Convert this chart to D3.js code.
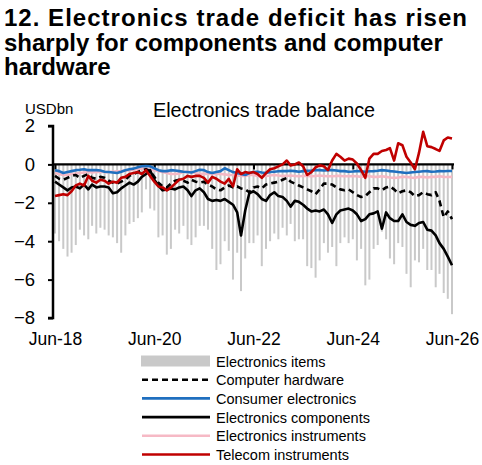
<!DOCTYPE html>
<html><head><meta charset="utf-8">
<script src="https://cdn.jsdelivr.net/npm/d3@7"></script>
<style>
body{margin:0;background:#fff;font-family:"Liberation Sans",Arial,sans-serif;}
</style></head>
<body><svg id="c" width="482" height="465"></svg>
<script>
// Monthly, Jun-2018 .. Jun-2026 (97 points)
const startMonth = [2018, 5];
const xTickLabels = ["Jun-18","Jun-20","Jun-22","Jun-24","Jun-26"];
const yTicks = [2,0,-2,-4,-6,-8];

const electronicsItems = [
-3.6,-4.0,-4.4,-4.8,-4.6,-4.2,-3.4,-3.7,-3.9,-3.2,-3.6,-3.3,-3.4,-3.7,-3.8,-4.1,-4.6,-3.7,-3.1,-3.0,
-2.8,-2.5,-1.3,-2.3,-2.4,-3.8,-3.7,-4.7,-4.4,-3.4,-3.6,-3.2,-3.9,-4.2,-3.8,-3.2,-3.2,-3.4,-4.4,
-5.5,-5.2,-4.0,-4.5,-6.0,-4.6,-6.6,-4.9,-4.1,-4.1,-3.7,-5.3,-4.4,-4.0,-3.6,-3.9,-3.3,-3.7,-3.1,
-4.0,-3.9,-3.9,-5.3,-5.4,-5.9,-5.0,-4.1,-4.6,-4.3,-5.3,-4.1,-3.8,-4.1,-3.9,-5.0,-4.4,-6.3,-6.0,-4.4,
-4.2,-3.5,-3.9,-4.9,-5.2,-4.1,-4.3,-5.7,-6.4,-5.0,-5.1,-4.4,-5.5,-5.5,-6.4,-5.7,-6.7,-7.0,-7.8];

const computerHardware = [
-0.6,-0.75,-0.8,-0.7,-0.6,-0.55,-0.7,-0.6,-0.5,-0.7,-0.75,-0.65,-0.7,-0.85,-0.95,-1.0,-0.9,-0.8,-0.6,-0.5,
-0.4,-0.3,-0.25,-0.35,-0.65,-0.95,-1.15,-1.2,-1.0,-0.85,-0.8,-0.85,-0.95,-0.8,-0.9,-0.95,-0.9,-1.05,-1.15,
-1.3,-1.35,-1.2,-1.1,-1.2,-1.15,-1.25,-1.3,-1.45,-1.2,-1.15,-1.25,-1.05,-1.0,-0.95,-0.9,-0.8,-0.7,-0.9,
-1.0,-1.1,-1.2,-1.3,-1.4,-1.55,-1.3,-1.0,-1.0,-1.05,-1.2,-1.3,-1.35,-1.3,-1.45,-1.6,-1.7,-1.65,-1.45,-1.25,
-1.25,-1.35,-1.2,-1.15,-1.3,-1.5,-1.4,-1.35,-1.45,-1.65,-1.6,-1.45,-1.55,-1.6,-1.45,-1.9,-2.75,-2.45,-2.85];

const consumerElectronics = [
-0.3,-0.35,-0.45,-0.4,-0.35,-0.3,-0.28,-0.25,-0.3,-0.3,-0.3,-0.32,-0.38,-0.4,-0.42,-0.45,-0.38,-0.3,-0.25,-0.22,
-0.15,-0.1,-0.08,-0.1,-0.2,-0.3,-0.35,-0.35,-0.3,-0.32,-0.35,-0.38,-0.4,-0.42,-0.35,-0.28,-0.3,-0.4,-0.45,
-0.4,-0.35,-0.2,-0.3,-0.4,-0.45,-0.5,-0.55,-0.45,-0.4,-0.38,-0.42,-0.45,-0.4,-0.38,-0.36,-0.35,-0.35,-0.33,
-0.35,-0.38,-0.35,-0.33,-0.32,-0.3,-0.3,-0.32,-0.3,-0.3,-0.32,-0.35,-0.35,-0.38,-0.37,-0.35,-0.36,-0.38,-0.36,-0.35,
-0.33,-0.3,-0.32,-0.35,-0.37,-0.4,-0.42,-0.45,-0.42,-0.4,-0.38,-0.36,-0.35,-0.38,-0.37,-0.35,-0.36,-0.34,-0.34];

const electronicsComponents = [
-0.9,-1.05,-1.2,-1.35,-1.2,-1.15,-1.25,-1.05,-1.3,-1.05,-1.2,-1.15,-1.15,-1.2,-1.5,-1.45,-1.25,-1.1,-0.95,-1.05,
-0.9,-0.65,-0.5,-0.3,-0.8,-1.1,-1.35,-1.3,-1.25,-1.3,-1.2,-1.15,-1.35,-1.65,-1.35,-1.25,-1.45,-1.8,-1.9,
-1.85,-1.9,-1.8,-1.95,-2.1,-2.5,-3.7,-2.4,-1.5,-1.4,-1.55,-1.8,-1.9,-1.6,-1.45,-1.65,-1.7,-1.9,-2.2,
-1.9,-1.95,-2.1,-2.3,-2.45,-2.4,-2.45,-2.35,-2.6,-3.05,-2.6,-2.4,-2.35,-2.3,-2.4,-2.6,-2.95,-2.85,-2.6,-2.55,
-2.45,-3.35,-2.5,-2.8,-2.95,-2.95,-2.6,-3.0,-3.15,-3.2,-3.05,-3.0,-3.4,-3.45,-3.7,-4.1,-4.4,-4.8,-5.25];

const electronicsInstruments = [
-0.45,-0.5,-0.55,-0.55,-0.5,-0.48,-0.45,-0.42,-0.4,-0.42,-0.4,-0.38,-0.4,-0.4,-0.38,-0.36,-0.35,-0.32,-0.3,-0.28,
-0.25,-0.2,-0.22,-0.28,-0.3,-0.35,-0.4,-0.45,-0.5,-0.5,-0.48,-0.4,-0.38,-0.4,-0.45,-0.5,-0.48,-0.5,-0.5,
-0.48,-0.5,-0.52,-0.55,-0.55,-0.58,-0.6,-0.6,-0.55,-0.55,-0.6,-0.62,-0.6,-0.58,-0.55,-0.58,-0.6,-0.6,-0.58,
-0.6,-0.62,-0.6,-0.6,-0.62,-0.6,-0.58,-0.6,-0.62,-0.62,-0.6,-0.6,-0.62,-0.62,-0.6,-0.62,-0.65,-0.62,-0.62,-0.65,
-0.65,-0.62,-0.65,-0.68,-0.7,-0.68,-0.65,-0.65,-0.68,-0.7,-0.65,-0.65,-0.68,-0.65,-0.65,-0.62,-0.65,-0.66,-0.65];

const telecomInstruments = [
-1.65,-1.6,-1.55,-1.6,-1.4,-1.1,-1.0,-1.1,-0.6,-0.85,-0.95,-0.8,-0.85,-1.0,-0.9,-0.95,-0.7,-0.65,-0.5,-0.45,
-0.4,-0.5,-0.3,-0.6,-0.9,-1.15,-1.2,-1.35,-1.2,-1.0,-0.8,-0.75,-0.6,-0.65,-0.6,-0.6,-0.7,-0.95,-0.65,
-0.75,-0.9,-1.0,-0.75,-1.15,-0.25,-0.5,-0.4,-0.45,-0.4,-0.5,-0.7,-0.45,-0.25,-0.2,-0.1,0.0,0.2,-0.05,
0.0,0.1,-0.1,-0.55,-0.4,-0.15,-0.05,-0.1,-0.3,0.2,0.55,0.4,0.2,0.3,0.25,0.05,-0.3,-0.7,0.3,0.55,
0.55,0.7,0.75,0.85,0.2,1.1,1.0,0.4,0.1,-0.25,0.6,1.7,0.95,0.9,0.8,0.7,1.25,1.4,1.35];

const seriesNames = ["Electronics items","Computer hardware","Consumer electronics","Electronics components","Electronics instruments","Telecom instruments"];

const dates = electronicsItems.map((_, i) => new Date(startMonth[0], startMonth[1] + i, 1));

const svg = d3.select("#c");
const x = d3.scaleTime().domain([new Date(2018,5,1), new Date(2026,5,1)]).range([55, 452]);
const y = d3.scaleLinear().domain([-8, 2]).range([318, 126]);

// Title
const title = ["12. Electronics trade deficit has risen","sharply for components and computer","hardware"];
const titleWidths = [463, null, null];
svg.append("g").selectAll("text").data(title).join("text")
  .attr("x", 4).attr("y", (d,i) => 26 + i*24.5)
  .attr("font-size", 24).attr("font-weight", "bold").attr("fill", "#000")
  .attr("textLength", (d,i) => titleWidths[i])
  .attr("lengthAdjust", "spacing")
  .text(d => d);

svg.append("text").attr("x", 25).attr("y", 114).attr("font-size", 15).text("USDbn");
svg.append("text").attr("x", 264).attr("y", 117).attr("text-anchor","middle").attr("font-size", 19.8).text("Electronics trade balance");

// Bars
const bw = 2;
svg.append("g").selectAll("rect").data(electronicsItems).join("rect")
  .attr("x", (d,i) => x(dates[i]) - bw/2)
  .attr("y", d => Math.min(y(d), y(0)))
  .attr("width", bw)
  .attr("height", d => Math.abs(y(d) - y(0)))
  .attr("fill", "#c9c9c9");

// Zero axis with ticks
const tickDates = xTickLabels.map((_, k) => new Date(2018 + 2*k, 5, 1));
const xAxis = svg.append("g").attr("transform", `translate(0,${y(0)})`)
  .call(d3.axisBottom(x).tickValues(tickDates).tickSize(5).tickFormat(""));
xAxis.select(".domain").attr("stroke", "#000").attr("stroke-width", 2.2).attr("d", `M53,0H454`);
xAxis.selectAll(".tick line").attr("stroke-width", 2);

// bottom labels
const xLab = svg.append("g").attr("transform", `translate(0,${y(-8)})`)
  .call(d3.axisBottom(x).tickValues(tickDates).tickSize(0).tickPadding(15).tickFormat((d,i) => xTickLabels[i]));
xLab.select(".domain").remove();
xLab.selectAll("text").attr("font-size", 17.5).attr("font-family", "Liberation Sans, Arial, sans-serif").attr("fill","#000");

// Lines
const line = d3.line().x((d,i) => x(dates[i])).y(d => y(d));
const lineSpecs = [
  {data: electronicsInstruments, color: "#f6b9c5", dash: null},
  {data: consumerElectronics, color: "#1f6fbf", dash: null},
  {data: computerHardware, color: "#000", dash: "6,4"},
  {data: electronicsComponents, color: "#000", dash: null},
  {data: telecomInstruments, color: "#c00000", dash: null}
];
lineSpecs.forEach(s => {
  svg.append("path").datum(s.data).attr("d", line).attr("fill","none")
    .attr("stroke", s.color).attr("stroke-width", 2.6).attr("stroke-linejoin","round")
    .attr("stroke-dasharray", s.dash);
});

// Y axis
const yAxis = svg.append("g").attr("transform", "translate(53,0)")
  .call(d3.axisLeft(y).tickValues(yTicks).tickSize(5).tickPadding(13).tickFormat(d3.format("d")));
yAxis.select(".domain").attr("stroke-width", 2.5).attr("d", "M-5,126H0V318H-5");
yAxis.selectAll(".tick line").attr("stroke-width", 2);
yAxis.selectAll("text").attr("font-size", 18.5).attr("font-family", "Liberation Sans, Arial, sans-serif").attr("fill","#000");

// Legend
const legY0 = 361, legStep = 18.7;
const leg = svg.append("g");
const legStyles = [
  {type:"rect", color:"#c9c9c9"},
  {type:"line", color:"#000", dash:"6,4"},
  {type:"line", color:"#1f6fbf"},
  {type:"line", color:"#000"},
  {type:"line", color:"#f6b9c5"},
  {type:"line", color:"#c00000"}
];
seriesNames.forEach((name, i) => {
  const cy = legY0 + i*legStep;
  const st = legStyles[i];
  if (st.type === "rect") {
    leg.append("rect").attr("x", 141).attr("y", cy - 5.5).attr("width", 69).attr("height", 11).attr("fill", st.color);
  } else {
    leg.append("line").attr("x1", 142).attr("x2", 210).attr("y1", cy).attr("y2", cy)
      .attr("stroke", st.color).attr("stroke-width", 2.6).attr("stroke-dasharray", st.dash || null);
  }
  leg.append("text").attr("x", 216).attr("y", cy + 5.5).attr("font-size", 14.5).text(name);
});
</script></body></html>
